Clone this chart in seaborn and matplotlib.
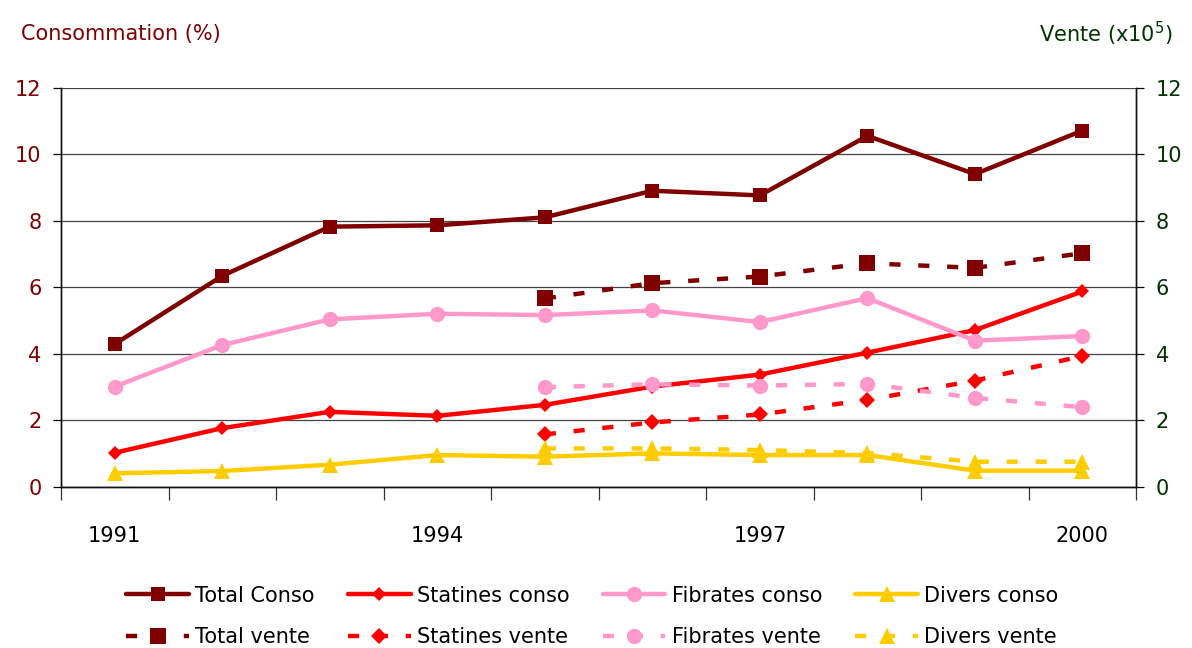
import numpy as np
import pandas as pd
import matplotlib
matplotlib.use("Agg")
import matplotlib.pyplot as plt
import seaborn as sns

# data
years = [1991, 1992, 1993, 1994, 1995, 1996, 1997, 1998, 1999, 2000]
total_conso = [4.30, 6.35, 7.83, 7.87, 8.11, 8.91, 8.77, 10.56, 9.41, 10.72]
statines_conso = [1.03, 1.77, 2.26, 2.14, 2.47, 3.02, 3.38, 4.04, 4.72, 5.88]
fibrates_conso = [3.02, 4.27, 5.04, 5.21, 5.17, 5.31, 4.96, 5.68, 4.40, 4.54]
divers_conso = [0.41, 0.48, 0.67, 0.96, 0.91, 1.01, 0.96, 0.96, 0.49, 0.49]

vente_years = [1995, 1996, 1997, 1998, 1999, 2000]
total_vente = [5.67, 6.13, 6.33, 6.73, 6.59, 7.03]
statines_vente = [1.58, 1.94, 2.18, 2.62, 3.20, 3.94]
fibrates_vente = [3.00, 3.09, 3.05, 3.10, 2.68, 2.40]
divers_vente = [1.16, 1.16, 1.11, 1.02, 0.76, 0.76]

label_years = [1991, 1994, 1997, 2000]

sns.set_style("white")
plt.rcParams["font.family"] = ["DejaVu Sans"]
plt.rcParams["text.color"] = "black"
plt.rcParams["xtick.color"] = "black"
plt.rcParams["ytick.color"] = "black"

c_total, c_stat, c_fib, c_div = "#800000", "#FF0000", "#FF99CC", "#FFCC00"
c_left, c_right = "#800000", "#003300"

fig = plt.figure(figsize=(11.92, 6.48), dpi=100)
ax = fig.add_axes([0.0512, 0.2485, 0.902, 0.6157])
ax2 = ax.twinx()

conso = [("Total Conso", total_conso, c_total, "s", 10),
         ("Statines conso", statines_conso, c_stat, "D", 7.5),
         ("Fibrates conso", fibrates_conso, c_fib, "o", 11),
         ("Divers conso", divers_conso, c_div, "^", 11)]
vente = [("Total vente", total_vente, c_total, "s", 11),
         ("Statines vente", statines_vente, c_stat, "D", 8),
         ("Fibrates vente", fibrates_vente, c_fib, "o", 11),
         ("Divers vente", divers_vente, c_div, "^", 11)]

handles = []
for (n1, v1, col, mk, ms), (n2, v2, _, mk2, ms2) in zip(conso, vente):
    sns.lineplot(x=years, y=v1, ax=ax, color=col, marker=mk, markersize=ms,
                 markeredgewidth=0, linewidth=3.2, label=n1, legend=False)
    h1 = ax.get_lines()[-1]
    sns.lineplot(x=vente_years, y=v2, ax=ax2, color=col, marker=mk2, markersize=ms2,
                 markeredgewidth=0, linewidth=3.2, linestyle=(0, (2.5, 4)),
                 label=n2, legend=False)
    h2 = ax2.get_lines()[-1]
    handles += [h1, h2]

for a in (ax, ax2):
    a.set_ylim(0, 12)
    a.set_yticks(np.arange(0, 13, 2))
    a.set_xlim(1990.5, 2000.5)
    a.set_ylabel("")
ax.yaxis.grid(True, color="#444444", linewidth=0.9)
ax.set_axisbelow(True)

ax.set_xticks(np.arange(1990.5, 2001, 1))
ax.set_xticklabels([])
ax.set_xticks(label_years, minor=True)
ax.set_xticklabels([str(y) for y in label_years], minor=True)
ax.tick_params(axis="x", which="major", direction="out", length=9, width=0.9, color="#333333", bottom=True)
ax.tick_params(axis="x", which="minor", length=0, pad=28, labelsize=15, labelcolor="black")
ax.tick_params(axis="y", direction="out", length=6, width=0.9, left=True, labelsize=15,
               labelcolor=c_left, pad=8)
ax2.tick_params(axis="y", direction="out", length=6, width=0.9, right=True, labelsize=15,
                labelcolor=c_right, pad=8)

for a in (ax, ax2):
    a.spines["top"].set_visible(False)
    for s in ("left", "right", "bottom"):
        a.spines[s].set_color("#111111")
        a.spines[s].set_linewidth(1.0)

fig.text(0.018, 0.948, "Consommation (%)", color=c_left, fontsize=15, va="center", ha="left")
fig.text(0.984, 0.948, "Vente (x10$^5$)", color=c_right, fontsize=15, va="center", ha="right")

fig.legend(handles=handles, labels=[h.get_label() for h in handles], loc="lower center",
           bbox_to_anchor=(0.497, -0.028), ncol=4, frameon=False, fontsize=15,
           handlelength=3.0, columnspacing=1.6, handletextpad=0.3, labelspacing=1.05)

fig.savefig("out.png", dpi=100)
